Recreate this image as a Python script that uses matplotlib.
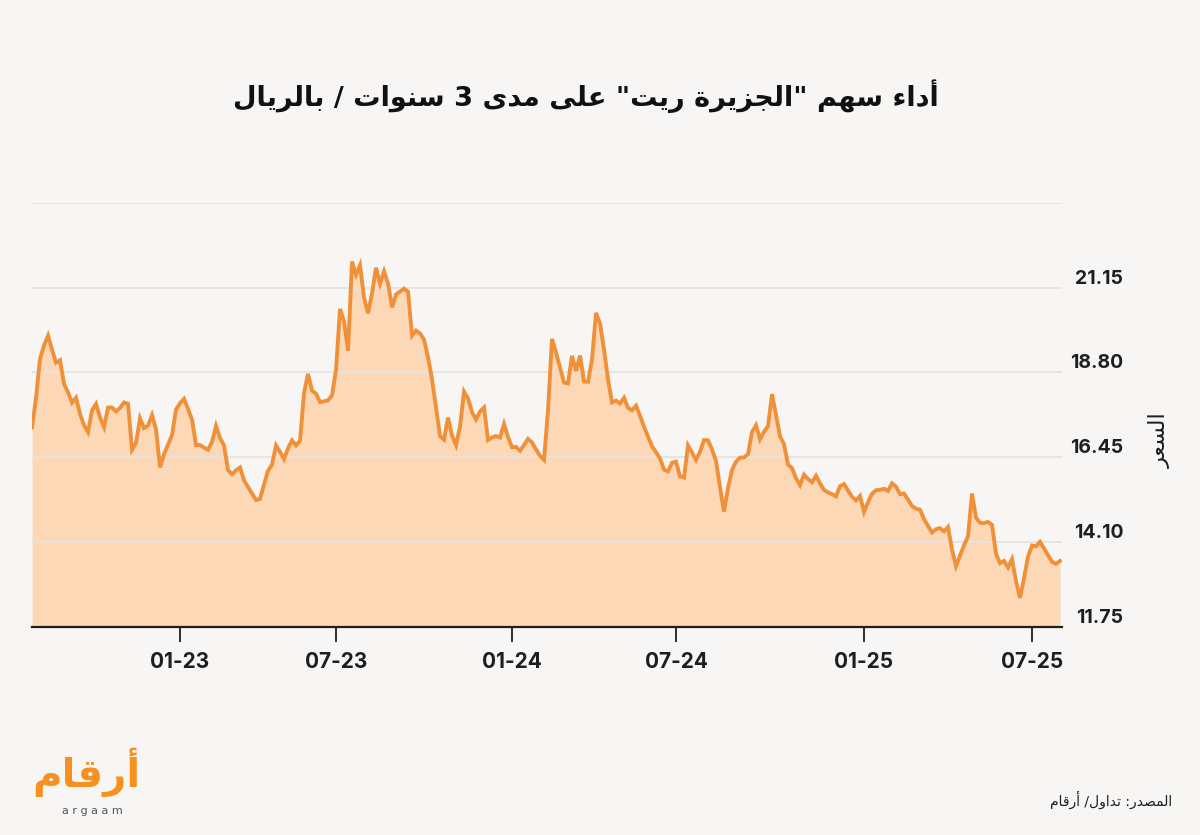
import matplotlib
import matplotlib.pyplot as plt
from matplotlib.transforms import ScaledTranslation

matplotlib.use('Agg')

# Arabic presentation forms: (isolated code point, joining type)
FORMS = {
    'ء': (0xFE80, 'n'), 'أ': (0xFE83, 'r'), 'ا': (0xFE8D, 'r'), 'ب': (0xFE8F, 'd'),
    'ة': (0xFE93, 'r'), 'ت': (0xFE95, 'd'), 'ج': (0xFE9D, 'd'), 'د': (0xFEA9, 'r'),
    'ر': (0xFEAD, 'r'), 'ز': (0xFEAF, 'r'), 'س': (0xFEB1, 'd'), 'ص': (0xFEB9, 'd'),
    'ع': (0xFEC9, 'd'), 'ق': (0xFED5, 'd'), 'ل': (0xFEDD, 'd'), 'م': (0xFEE1, 'd'),
    'ن': (0xFEE5, 'd'), 'ه': (0xFEE9, 'd'), 'و': (0xFEED, 'r'), 'ى': (0xFEEF, 'r'),
    'ي': (0xFEF1, 'd'),
}


def shape(text):
    """join arabic letters and flip to visual order (no bidi lib here)"""
    out = []
    for i, ch in enumerate(text):
        if ch not in FORMS:
            out.append(ch)
            continue
        base, kind = FORMS[ch]
        prev = text[i - 1] if i > 0 else ''
        nxt = text[i + 1] if i + 1 < len(text) else ''
        join_prev = prev in FORMS and FORMS[prev][1] == 'd'
        join_next = kind == 'd' and nxt in FORMS
        if kind == 'n':
            code = base
        elif join_prev and join_next:
            code = base + 3
        elif join_prev:
            code = base + 1
        elif join_next:
            code = base + 2
        else:
            code = base
        out.append(chr(code))
    return ''.join(out)[::-1]


title = 'أداء سهم "الجزيرة ريت" على مدى 3 سنوات / بالريال'
y_title = 'السعر'
source = 'المصدر: تداول/ أرقام'
logo = 'أرقام'

# price, evenly spaced points
price = [
    17.28, 18.10, 19.18, 19.55, 19.82, 19.43, 19.07, 19.14, 18.48, 18.25,
    17.96, 18.10, 17.65, 17.34, 17.15, 17.75, 17.93, 17.55, 17.29, 17.83,
    17.83, 17.72, 17.82, 17.97, 17.93, 16.66, 16.85, 17.53, 17.26, 17.33,
    17.62, 17.22, 16.17, 16.54, 16.80, 17.07, 17.77, 17.95, 18.07, 17.79,
    17.49, 16.79, 16.79, 16.72, 16.66, 16.88, 17.32, 16.98, 16.78, 16.10,
    15.98, 16.09, 16.17, 15.81, 15.63, 15.45, 15.27, 15.30, 15.70, 16.08,
    16.25, 16.78, 16.60, 16.40, 16.70, 16.92, 16.78, 16.91, 18.23, 18.76,
    18.30, 18.21, 17.98, 18.00, 18.03, 18.17, 18.87, 20.56, 20.22, 19.40,
    21.87, 21.51, 21.77, 20.87, 20.44, 20.99, 21.70, 21.26, 21.60, 21.26,
    20.60, 20.96, 21.04, 21.12, 21.04, 19.82, 19.96, 19.88, 19.71, 19.22,
    18.61, 17.83, 17.04, 16.94, 17.55, 17.05, 16.79, 17.30, 18.27, 18.08,
    17.70, 17.50, 17.72, 17.83, 16.93, 17.00, 17.04, 17.00, 17.37, 17.01,
    16.73, 16.74, 16.63, 16.79, 16.96, 16.86, 16.67, 16.49, 16.38, 17.76,
    19.73, 19.35, 18.93, 18.52, 18.50, 19.26, 18.84, 19.27, 18.55, 18.54,
    19.16, 20.45, 20.15, 19.44, 18.61, 17.97, 18.02, 17.94, 18.10, 17.82,
    17.75, 17.88, 17.60, 17.30, 17.02, 16.76, 16.59, 16.42, 16.11, 16.06,
    16.30, 16.33, 15.92, 15.89, 16.78, 16.58, 16.38, 16.60, 16.93, 16.92,
    16.67, 16.35, 15.62, 14.95, 15.60, 16.10, 16.33, 16.44, 16.45, 16.54,
    17.15, 17.34, 16.95, 17.16, 17.31, 18.20, 17.62, 17.04, 16.81, 16.25,
    16.15, 15.87, 15.68, 15.97, 15.85, 15.76, 15.94, 15.73, 15.55, 15.48,
    15.43, 15.37, 15.65, 15.71, 15.53, 15.36, 15.26, 15.38, 14.94, 15.21,
    15.44, 15.54, 15.55, 15.58, 15.52, 15.73, 15.64, 15.43, 15.45, 15.28,
    15.10, 15.03, 15.00, 14.74, 14.55, 14.37, 14.46, 14.49, 14.40, 14.52,
    13.90, 13.44, 13.73, 14.01, 14.26, 15.45, 14.78, 14.64, 14.63, 14.66,
    14.58, 13.78, 13.52, 13.58, 13.40, 13.63, 13.02, 12.56, 13.10, 13.70,
    14.01, 13.99, 14.11, 13.93, 13.74, 13.56, 13.50, 13.58,
]
tick_idx = [37, 76, 120, 161, 208, 250]
tick_labels = ['01-23', '07-23', '01-24', '07-24', '01-25', '07-25']
y_ticks = [11.75, 14.10, 16.45, 18.80, 21.15, 23.50]
y_labels = ['11.75', '14.10', '16.45', '18.80', '21.15', '']

BG = '#F8F6F4'
LINE = '#F0913A'
FILL = '#FDD8B6'
INK = '#1E1E1E'
NUM_FONT = ['Inter', 'DejaVu Sans']

fig = plt.figure(figsize=(12, 8.35), dpi=100, facecolor=BG)
ax = fig.add_axes([0.0267, 0.249, 0.8583, 0.5082], facecolor=BG)

x = list(range(len(price)))
ax.fill_between(x, price, 11.75, color=FILL, lw=0, zorder=1)
ax.plot(x, price, color=LINE, lw=2.8, solid_joinstyle='miter', zorder=3)

ax.set_xlim(0, len(price) - 0.5)
ax.set_ylim(11.75, 23.5)

ax.set_yticks(y_ticks, y_labels)
ax.yaxis.tick_right()
ax.tick_params(axis='y', length=0, pad=44, labelsize=14, labelcolor=INK)
ax.grid(axis='y', color='#E7E3DF', lw=1.3, zorder=2)
ax.set_axisbelow(False)
shift = ScaledTranslation(0, 0.11, fig.dpi_scale_trans)
for lab in ax.get_yticklabels():
    lab.set_horizontalalignment('right')
    lab.set_fontfamily(NUM_FONT)
    lab.set_fontweight('bold')
    lab.set_transform(lab.get_transform() + shift)

ax.set_xticks(tick_idx, tick_labels)
ax.tick_params(axis='x', length=11, width=1.3, color=INK, pad=7,
               labelsize=15, labelcolor=INK)
for lab in ax.get_xticklabels():
    lab.set_fontfamily(NUM_FONT)
    lab.set_fontweight('bold')

for side in ['left', 'top', 'right']:
    ax.spines[side].set_visible(False)
ax.spines['bottom'].set_color(INK)
ax.spines['bottom'].set_linewidth(1.6)
ax.spines['bottom'].set_zorder(4)

fig.text(1160 / 1200, 1 - 440 / 835, shape(y_title), rotation=90,
         ha='center', va='center', fontsize=16, color=INK, family='DejaVu Sans')

fig.text(586 / 1200, 1 - 96 / 835, shape(title), ha='center', va='center',
         fontsize=19.5, fontweight='bold', color='#111111', family='DejaVu Sans')

fig.text(1172 / 1200, 1 - 800 / 835, shape(source), ha='right', va='center',
         fontsize=10, color=INK, family='DejaVu Sans')

fig.text(86 / 1200, 1 - 772 / 835, shape(logo), ha='center', va='center',
         fontsize=29, fontweight='bold', color='#F7901E', family='DejaVu Sans')
fig.text(92 / 1200, 1 - 811 / 835, 'a r g a a m', ha='center', va='center',
         fontsize=8, color='#555555', family='DejaVu Sans')

fig.savefig('out.png', dpi=100, facecolor=BG)
